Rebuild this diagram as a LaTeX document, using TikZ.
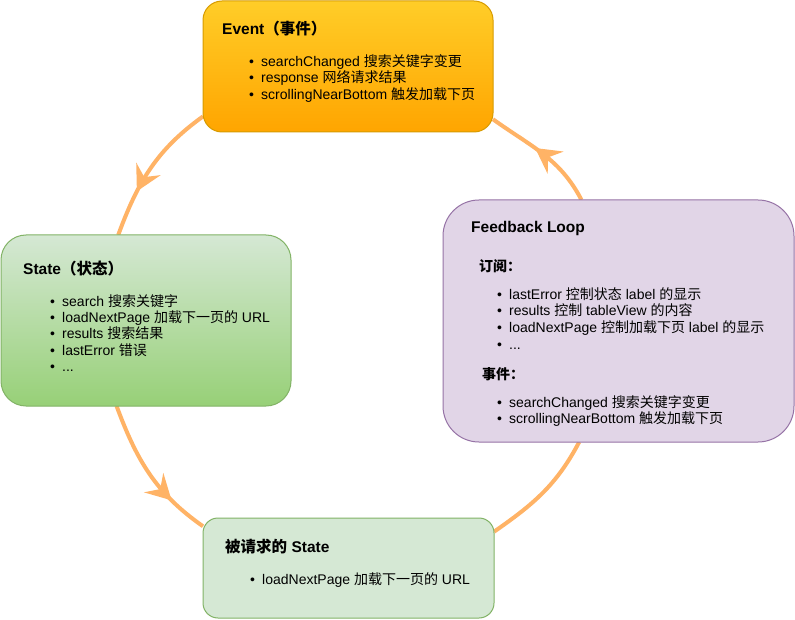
\documentclass[tikz,border=0pt]{standalone}
\usepackage{fontspec}
\setmainfont{Liberation Sans}
\newfontfamily\cjk{Noto Sans CJK SC}
\newcommand{\zh}[1]{{\cjk #1}}
\usetikzlibrary{arrows.meta,decorations.markings,backgrounds}
\definecolor{loopc}{HTML}{FFB366}
\definecolor{evtop}{HTML}{FFCD28}
\definecolor{evbot}{HTML}{FFA500}
\definecolor{evline}{HTML}{D79B00}
\definecolor{gtop}{HTML}{D5E8D4}
\definecolor{gbot}{HTML}{97D077}
\definecolor{gline}{HTML}{82B366}
\definecolor{pfill}{HTML}{E1D5E7}
\definecolor{pline}{HTML}{9673A6}
\begin{document}
\begin{tikzpicture}[x=1pt,y=-1pt,
  box/.style={draw, line width=1pt, inner sep=0pt, outer sep=0pt},
  ttl/.style={anchor=base west, inner sep=0pt, font=\fontsize{15.5}{18}\selectfont\bfseries},
  sub/.style={anchor=base west, inner sep=0pt, font=\fontsize{14}{17}\selectfont\bfseries},
  li/.style={anchor=base west, inner sep=0pt, font=\fontsize{14}{17}\selectfont},
  flow/.style={draw=loopc, line width=4pt},
  tipat/.style={postaction={decorate}, decoration={markings, mark=at position #1 with {\arrow[color=loopc]{Stealth[length=25pt,width=27pt,inset=9pt]}}}}
]
\newcommand{\bul}{\makebox[12pt][l]{\textbullet}}
\useasboundingbox (0,0) rectangle (795,620);

% boxes
\node[box, draw=evline, top color=evtop, bottom color=evbot, minimum width=290pt, minimum height=131pt, rounded corners=19pt] (event) at (348,66.5) {};
\node[box, draw=gline, top color=gtop, bottom color=gbot, minimum width=290pt, minimum height=171pt, rounded corners=25pt] (state) at (146,320.5) {};
\node[box, draw=pline, fill=pfill, minimum width=351pt, minimum height=242pt, rounded corners=36pt] (feedback) at (618.5,321) {};
\node[box, draw=gline, fill=gtop, minimum width=291pt, minimum height=100pt, rounded corners=15pt] (bottom) at (348.5,568) {};

% connectors
\begin{scope}[on background layer]
\fill[white] (0,0) rectangle (795,620);
\draw[flow, tipat=0.68] (event.199.6) to[out=215.7, in=69.8] (state.108.7);
\draw[flow, tipat=0.73] (state.251.3) to[out=290.4, in=145] (bottom.164.3);
\draw[flow] (bottom.14.6) to[out=34.8, in=242.3] (feedback.252.35);
\draw[flow, tipat=0.58] (feedback.107.65) to[out=117.3, in=324.3] (event.340.4);
\end{scope}

% Event text
\node[ttl] (evt) at (222,34.5) {Event\zh{（事件）}};
\node[li] (e1) at (249,66.5) {\bul searchChanged \zh{搜索关键字变更}};
\node[li] (e2) at (249,83) {\bul response \zh{网络请求结果}};
\node[li] (e3) at (249,99.5) {\bul scrollingNearBottom \zh{触发加载下页}};

% State text
\node[ttl] (stt) at (23,274.5) {State\zh{（状态）}};
\node[li] (s1) at (50,306.5) {\bul search \zh{搜索关键字}};
\node[li] (s2) at (50,322.7) {\bul loadNextPage \zh{加载下一页的} URL};
\node[li] (s3) at (50,338.9) {\bul results \zh{搜索结果}};
\node[li] (s4) at (50,355.1) {\bul lastError \zh{错误}};
\node[li] (s5) at (50,371.3) {\bul ...};

% Feedback text
\node[ttl] (fbt) at (471,232.5) {Feedback Loop};
\node[sub] (fsub) at (479,271.3) {\zh{订阅：}};
\node[li] (f1) at (497,299.3) {\bul lastError \zh{控制状态} label \zh{的显示}};
\node[li] (f2) at (497,315.9) {\bul results \zh{控制} tableView \zh{的内容}};
\node[li] (f3) at (497,332.5) {\bul loadNextPage \zh{控制加载下页} label \zh{的显示}};
\node[li] (f4) at (497,349.1) {\bul ...};
\node[sub] (fev) at (482,379) {\zh{事件：}};
\node[li] (f5) at (497,407) {\bul searchChanged \zh{搜索关键字变更}};
\node[li] (f6) at (497,423.6) {\bul scrollingNearBottom \zh{触发加载下页}};

% Bottom text
\node[ttl] (btt) at (225,552) {\zh{被请求的} State};
\node[li] (b1) at (250,584) {\bul loadNextPage \zh{加载下一页的} URL};
\end{tikzpicture}
\end{document}
